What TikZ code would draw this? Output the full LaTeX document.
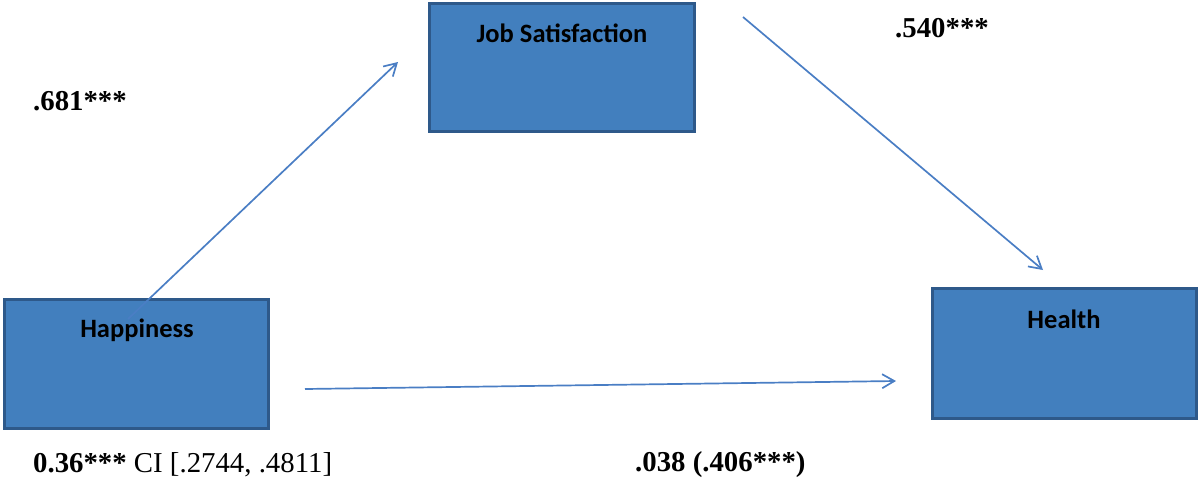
\documentclass[tikz,border=0pt]{standalone}
\usepackage{fontspec}
\setmainfont{Liberation Serif}
\newfontfamily\boxfont{Carlito}
\usetikzlibrary{arrows.meta}
\definecolor{boxfill}{RGB}{66,127,190}
\definecolor{boxedge}{RGB}{46,89,138}
\definecolor{arrowblue}{RGB}{74,126,196}
\tikzset{
  box/.style={draw=boxedge, fill=boxfill, line width=3pt, inner sep=0pt},
  boxtext/.style={font=\boxfont\bfseries\fontsize{26.5}{30}\selectfont, text=black, inner sep=0pt},
  coef/.style={font=\fontsize{28.8}{32}\selectfont, text=black, inner sep=0pt},
  conn/.style={draw=arrowblue, line width=1.7pt, -{Straight Barb[angle=60:14pt, line width=1.7pt]}}
}
\begin{document}
\begin{tikzpicture}[x=1pt,y=-1pt]
\useasboundingbox (0,0) rectangle (1200,480);
% boxes
\node[box, minimum width=264pt, minimum height=129pt] (hap) at (136.5,364) {};
\node[box, minimum width=265pt, minimum height=128pt] (job) at (562,67.5) {};
\node[box, minimum width=264pt, minimum height=130pt] (hea) at (1064.5,353.5) {};
% box titles
\node[boxtext] (hapt) at (137,330) {Happiness};
\node[boxtext] (jobt) at (562,33) {Job Satisfaction};
\node[boxtext] (heat) at (1064,319) {Health};
% connector end points
\coordinate (a1s) at (128,319);
\coordinate (a1e) at (398,62);
\coordinate (a2s) at (743,17);
\coordinate (a2e) at (1043,270);
\coordinate (a3s) at (305,389);
\coordinate (a3e) at (896,381);
\draw[conn] (a1s) -- (a1e);
\draw[conn] (a2s) -- (a2e);
\draw[conn] (a3s) -- (a3e);
% coefficients
\node[coef, anchor=west] (c1) at (33,101) {\textbf{.681***}};
\node[coef, anchor=west] (c2) at (895,28) {\textbf{.540***}};
\node[coef, anchor=west] (c3) at (33,465) {\textbf{0.36***} CI [.2744, .4811]};
\node[coef, anchor=west] (c4) at (635,465) {\textbf{.038 (.406***)}};
\end{tikzpicture}
\end{document}
